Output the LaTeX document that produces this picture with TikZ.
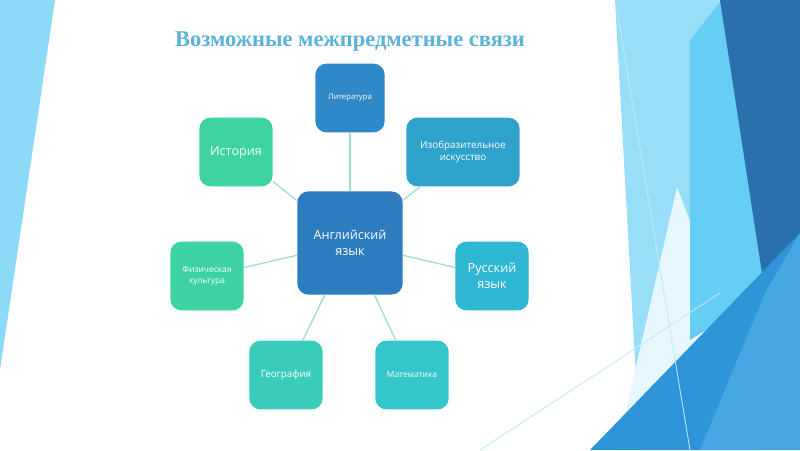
\documentclass[tikz,border=0pt]{standalone}
\usepackage{fontspec}
\setmainfont{Liberation Serif}
\newfontfamily\boxfont{Open Sans}
\definecolor{titleblue}{HTML}{5BB3D9}
\definecolor{cmain}{HTML}{2E7CC0}
\definecolor{clit}{HTML}{2F89C8}
\definecolor{cizo}{HTML}{2FA2CB}
\definecolor{crus}{HTML}{2EB7D2}
\definecolor{cmat}{HTML}{34C6CB}
\definecolor{cgeo}{HTML}{39CDB9}
\definecolor{cfiz}{HTML}{3DD2A6}
\definecolor{cist}{HTML}{3ED39F}
\definecolor{clink}{HTML}{9ADCD6}
\tikzset{
  subject/.style={rounded corners=8pt, minimum width=1.72cm, minimum height=1.72cm,
    text width=1.6cm, align=center, text=white, font=\boxfont},
  link/.style={clink, line width=0.9pt}
}
\begin{document}
\begin{tikzpicture}[x=0.025cm, y=-0.025cm]
    \useasboundingbox (0,0) rectangle (800,450);
    % background
    \fill[white] (0,0) rectangle (800,450);
    \fill[cyan!45!white] (0,0) -- (55,0) -- (0,370) -- cycle;
    \fill[cyan!40!white] (615,0) -- (722,0) -- (720,300) -- (760,450) -- (640,450) -- cycle;
    \fill[cyan!10!white] (677,187) -- (720,300) -- (690,450) -- (617,450) -- cycle;
    \fill[cyan!60!white] (690,40) -- (722,0) -- (765,293) -- (690,340) -- cycle;
    \fill[cmain!90!black] (720,0) -- (800,0) -- (800,233) -- (765,293) -- cycle;
    \fill[cyan!70!blue!85!white] (800,233) -- (590,450) -- (800,450) -- cycle;
    \fill[cyan!80!blue!70!white, opacity=0.7] (765,293) -- (800,233) -- (800,450) -- (700,450) -- cycle;
    \draw[cyan!25!white, line width=0.6pt] (617,10) -- (690,450);
    \draw[cyan!25!white, line width=0.6pt] (480,450) -- (720,293);
    % title
    \node[font=\bfseries\fontsize{16pt}{18pt}\selectfont, text=titleblue] (title) at (350,42) {Возможные межпредметные связи};
    % subjects
    \node[subject, fill=cmain, minimum width=2.6cm, minimum height=2.58cm, text width=2.4cm,
      font=\boxfont\fontsize{9pt}{11pt}\selectfont] (eng) at (350,243) {Английский\\язык};
    \node[subject, fill=clit, minimum width=1.6cm, text width=1.5cm,
      font=\boxfont\fontsize{5.5pt}{7pt}\selectfont] (lit) at (350,98) {Литература};
    \node[subject, fill=cizo, minimum width=2.68cm, text width=2.6cm,
      font=\boxfont\fontsize{7pt}{9pt}\selectfont] (izo) at (463,152) {Изобразительное искусство};
    \node[subject, fill=cist, font=\boxfont\fontsize{9pt}{11pt}\selectfont] (ist) at (236,152) {История};
    \node[subject, fill=cfiz, font=\boxfont\fontsize{6pt}{8pt}\selectfont] (fiz) at (207,276) {Физическая\\культура};
    \node[subject, fill=crus, font=\boxfont\fontsize{9pt}{11pt}\selectfont] (rus) at (492,276) {Русский\\язык};
    \node[subject, fill=cgeo, font=\boxfont\fontsize{7pt}{9pt}\selectfont] (geo) at (286,375) {География};
    \node[subject, fill=cmat, font=\boxfont\fontsize{6pt}{8pt}\selectfont] (mat) at (412,375) {Математика};
    % links
    \foreach \s in {lit, izo, ist, fiz, rus, geo, mat}
      \draw[link] (eng) -- (\s);
\end{tikzpicture}
\end{document}
